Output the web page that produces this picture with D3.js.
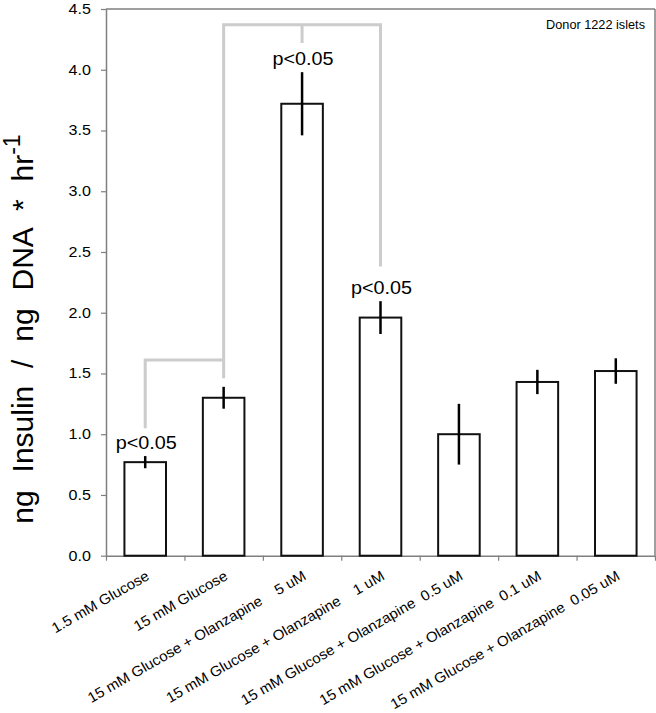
<!DOCTYPE html>
<html>
<head>
<meta charset="utf-8">
<script src="https://cdnjs.cloudflare.com/ajax/libs/d3/7.8.5/d3.min.js"></script>
<style>
  html, body { margin: 0; padding: 0; background: #fff; }
  svg { display: block; }
  text { font-family: "Liberation Sans", Arial, sans-serif; fill: #000; }
</style>
</head>
<body>
<svg id="chart" width="656" height="713"></svg>
<script>
// ---- data ----
const categories = [
  "1.5 mM Glucose",
  "15 mM Glucose",
  "15 mM Glucose + Olanzapine    5 uM",
  "15 mM Glucose + Olanzapine    1 uM",
  "15 mM Glucose + Olanzapine  0.5 uM",
  "15 mM Glucose + Olanzapine  0.1 uM",
  "15 mM Glucose + Olanzapine  0.05 uM"
];
const values = [0.77, 1.30, 3.72, 1.96, 1.00, 1.43, 1.52];
const errors = [0.05, 0.09, 0.26, 0.135, 0.25, 0.10, 0.105];
const yTicks = [0, 0.5, 1.0, 1.5, 2.0, 2.5, 3.0, 3.5, 4.0, 4.5];
const sigLabel = "p<0.05";
const sigIndex = [0, 2, 3];
// bracket paths: [categoryIndex, value] points
const bracketLower = [[0, 1.05], [0, 1.61], [1, 1.61]];
const bracketUpper = [[1, 1.46], [1, 4.37], [3, 4.37], [3, 2.38]];
const bracketTick = [[2, 4.37], [2, 4.22]];
const noteText = "Donor 1222 islets";
const yTitle = "ng Insulin / ng DNA * hr";
const yTitleSup = "-1";

// ---- layout ----
const svg = d3.select("#chart");
const L = 106, R = 655, T = 9, B = 555.7;
const axisColor = "#7f7f7f";

const x = d3.scaleBand().domain(d3.range(categories.length)).range([L, R])
  .paddingInner(0.47).paddingOuter(0.235);
const y = d3.scaleLinear().domain([0, 4.5]).range([B, T]);
const cx = i => x(i) + x.bandwidth() / 2;

// frame (top & right)
svg.append("line").attr("x1", L).attr("x2", R).attr("y1", T).attr("y2", T)
  .attr("stroke", axisColor).attr("stroke-width", 1.5);
svg.append("line").attr("x1", R).attr("x2", R).attr("y1", T).attr("y2", B)
  .attr("stroke", axisColor).attr("stroke-width", 1.5);

// y axis
const yAxis = svg.append("g").attr("transform", `translate(${L},0)`)
  .call(d3.axisLeft(y).tickValues(yTicks).tickFormat(d3.format(".1f"))
    .tickSize(5).tickSizeOuter(0).tickPadding(10));
yAxis.select(".domain").attr("stroke", axisColor).attr("stroke-width", 1.5);
yAxis.selectAll(".tick line").attr("stroke", axisColor).attr("stroke-width", 1.2);
yAxis.selectAll(".tick text")
  .attr("font-family", "Liberation Sans, Arial, sans-serif")
  .attr("font-size", 14).attr("fill", "#000")
  .each(function() {
    const t = d3.select(this);
    const xx = +t.attr("x");
    t.attr("x", null).attr("transform", `translate(${xx},0) scale(1.15,1)`);
  });

// x axis (boundary ticks)
const xLin = d3.scaleLinear().domain([0, categories.length]).range([L, R]);
const xAxis = svg.append("g").attr("transform", `translate(0,${B})`)
  .call(d3.axisBottom(xLin).tickValues(d3.range(categories.length + 1))
    .tickFormat("").tickSize(5).tickSizeOuter(0));
xAxis.select(".domain").attr("stroke", axisColor).attr("stroke-width", 1.5);
xAxis.selectAll(".tick line").attr("stroke", axisColor).attr("stroke-width", 1.2);

// category labels
svg.append("g").selectAll("text").data(categories).join("text")
  .attr("transform", (d, i) => `translate(${cx(i) + 5},${B + 23}) rotate(-30) scale(1.04,1)`)
  .attr("text-anchor", "end")
  .attr("font-size", 14.5)
  .style("white-space", "pre")
  .text(d => d);

// brackets
const line = d3.line().x(d => cx(d[0])).y(d => y(d[1]));
[bracketLower, bracketUpper, bracketTick].forEach(b => {
  svg.append("path").attr("d", line(b)).attr("fill", "none")
    .attr("stroke", "#cccccc").attr("stroke-width", 3);
});

// bars
svg.append("g").selectAll("rect").data(values).join("rect")
  .attr("x", (d, i) => x(i)).attr("width", x.bandwidth())
  .attr("y", d => y(d)).attr("height", d => y(0) - y(d))
  .attr("fill", "#fff").attr("stroke", "#111").attr("stroke-width", 2);

// error bars
svg.append("g").selectAll("line").data(values).join("line")
  .attr("x1", (d, i) => cx(i)).attr("x2", (d, i) => cx(i))
  .attr("y1", (d, i) => y(d + errors[i])).attr("y2", (d, i) => y(d - errors[i]))
  .attr("stroke", "#000").attr("stroke-width", 2.5);

// significance labels
svg.append("g").selectAll("text").data(sigIndex).join("text")
  .attr("transform", i => `translate(${cx(i) + 1},${y(values[i] + errors[i]) - 7}) scale(1.1,1)`)
  .attr("text-anchor", "middle").attr("font-size", 18)
  .text(sigLabel);

// note
svg.append("text").attr("transform", `translate(645,29) scale(1.06,1)`)
  .attr("text-anchor", "end").attr("font-size", 12).text(noteText);

// y title
const yt = svg.append("text")
  .attr("transform", `translate(33,329) rotate(-90)`)
  .attr("text-anchor", "middle").attr("font-size", 30)
  .style("word-spacing", "9.5px");
yt.append("tspan").text(yTitle);
yt.append("tspan").attr("font-size", 23).attr("dy", -13).text(yTitleSup);
</script>
</body>
</html>
